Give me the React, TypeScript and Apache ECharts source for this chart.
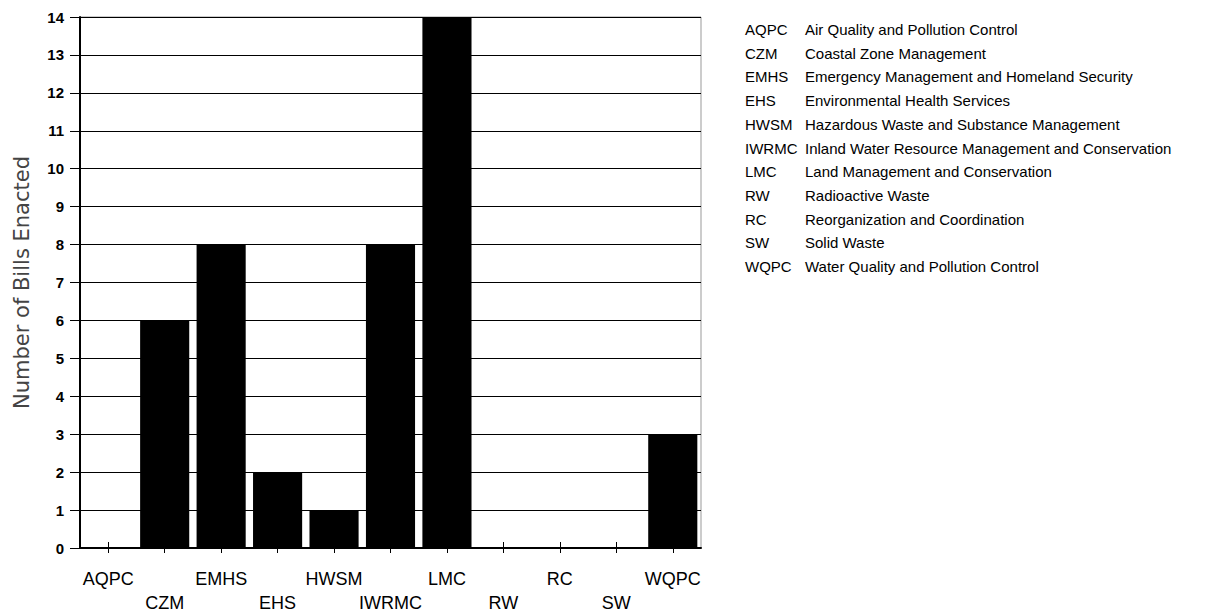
import React, { useEffect, useRef } from "react";
import * as echarts from "echarts";

const categories = ["AQPC", "CZM", "EMHS", "EHS", "HWSM", "IWRMC", "LMC", "RW", "RC", "SW", "WQPC"];
const billsEnacted = [0, 6, 8, 2, 1, 8, 14, 0, 0, 0, 3];
const legendAbbr = ["AQPC", "CZM", "EMHS", "EHS", "HWSM", "IWRMC", "LMC", "RW", "RC", "SW", "WQPC"];
const legendNames = [
  "Air Quality and Pollution Control",
  "Coastal Zone Management",
  "Emergency Management and Homeland Security",
  "Environmental Health Services",
  "Hazardous Waste and Substance Management",
  "Inland Water Resource Management and Conservation",
  "Land Management and Conservation",
  "Radioactive Waste",
  "Reorganization and Coordination",
  "Solid Waste",
  "Water Quality and Pollution Control",
];
const yMin = 0;
const yMax = 14;
const yInterval = 1;

export default function App() {
  const ref = useRef<HTMLDivElement>(null);
  useEffect(() => {
    if (!ref.current) return;
    const chart = echarts.init(ref.current, null, { renderer: "svg" });
    const font = "'Liberation Sans', Arial, sans-serif";
    const legendTop = 31;
    const legendStep = 23.7;
    const graphics: any[] = [];
    legendAbbr.forEach((a, i) => {
      graphics.push({
        type: "text",
        left: 745,
        top: legendTop + i * legendStep - 9,
        style: { text: a, fontSize: 15, fontFamily: font, fill: "#000" },
      });
      graphics.push({
        type: "text",
        left: 805,
        top: legendTop + i * legendStep - 9,
        style: { text: legendNames[i], fontSize: 15, fontFamily: font, fill: "#000" },
      });
    });
    const labelStyle = { fontSize: 18, fontFamily: font, color: "#000", lineHeight: 18 };
    chart.setOption({
      animation: false,
      backgroundColor: "#fff",
      grid: {
        left: 80,
        top: 17,
        width: 621,
        height: 531,
        show: true,
        borderColor: "#999",
        borderWidth: 1,
        outerBoundsMode: "none",
        containLabel: false,
      },
      xAxis: [
        {
          type: "category",
          data: categories,
          axisLine: { lineStyle: { color: "#000", width: 2 } },
          axisTick: { show: true, alignWithLabel: true, length: 5, lineStyle: { color: "#000", width: 1 } },
          axisLabel: {
            interval: 0,
            margin: 22,
            fontSize: 18,
            fontFamily: font,
            color: "#000",
            formatter: (v: string, i: number) => (i % 2 === 1 ? "{e| }\n{t|" + v + "}" : "{t|" + v + "}"),
            rich: {
              t: labelStyle,
              e: { fontSize: 18, fontFamily: font, lineHeight: 24 },
            },
          },
        },
        {
          type: "category",
          data: categories,
          position: "bottom",
          axisLine: { show: false },
          axisTick: { show: true, inside: true, alignWithLabel: true, length: 6, lineStyle: { color: "#000", width: 1 } },
          axisLabel: { show: false },
        },
      ],
      yAxis: {
        type: "value",
        min: yMin,
        max: yMax,
        interval: yInterval,
        name: "Number of Bills Enacted",
        nameLocation: "middle",
        nameGap: 48,
        nameTextStyle: { fontSize: 21, fontFamily: "'DejaVu Sans', sans-serif", color: "#444" },
        axisLine: { show: true, lineStyle: { color: "#000", width: 2 } },
        axisTick: { show: true, length: 10, lineStyle: { color: "#000", width: 1 } },
        axisLabel: { margin: 16, fontSize: 15, fontWeight: "bold", fontFamily: font, color: "#000" },
        splitLine: { show: true, lineStyle: { color: "#000", width: 1 } },
      },
      series: [
        {
          type: "bar",
          data: billsEnacted,
          barCategoryGap: "13%",
          itemStyle: { color: "#000" },
        },
      ],
      graphic: graphics,
    });
    return () => chart.dispose();
  }, []);
  return <div ref={ref} style={{ position: "fixed", left: 0, top: 0, width: 1206, height: 612 }} />;
}
